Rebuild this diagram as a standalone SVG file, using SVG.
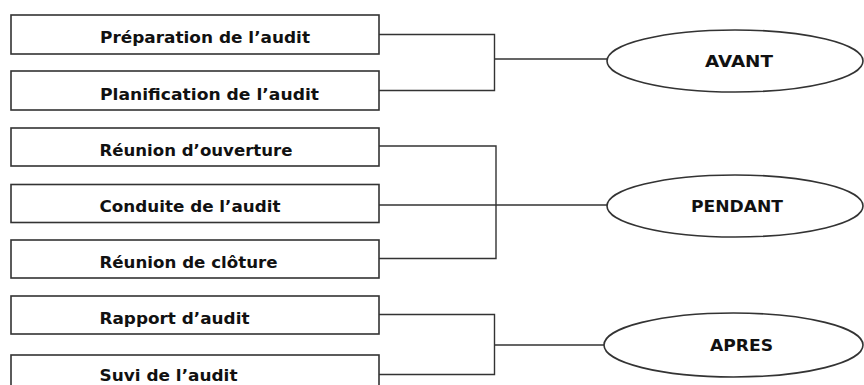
<svg xmlns="http://www.w3.org/2000/svg" width="864" height="385" viewBox="0 0 864 385">
<style>
.box{fill:#fff;stroke:#333;stroke-width:1.6}
.ell{fill:#fff;stroke:#333;stroke-width:1.6}
.ln{fill:none;stroke:#333;stroke-width:1.4}
.t{font-family:"DejaVu Sans",Verdana,sans-serif;font-weight:bold;font-size:16.5px;fill:#111}
.e{font-size:15.5px}
.c{text-anchor:middle}
</style>
<rect width="864" height="385" fill="#fff"/>
<g id="connectors">
<path class="ln" d="M379,34.5 H494.5 V90.5 H379 M494.5,59 H607"/>
<path class="ln" d="M379,146 H496 V258.5 H379 M379,205 H607"/>
<path class="ln" d="M379,314.5 H494.5 V374.5 H379 M494.5,345 H604"/>
</g>
<g id="n1"><rect class="box" x="11" y="15" width="368" height="39"/><text class="t" x="100" y="43" textLength="210" lengthAdjust="spacingAndGlyphs">Préparation de l’audit</text></g>
<g id="n2"><rect class="box" x="11" y="71" width="368" height="39"/><text class="t" x="100" y="99.5" textLength="219" lengthAdjust="spacingAndGlyphs">Planification de l’audit</text></g>
<g id="n3"><rect class="box" x="11" y="128" width="368" height="38"/><text class="t" x="99.5" y="155.5" textLength="193" lengthAdjust="spacingAndGlyphs">Réunion d’ouverture</text></g>
<g id="n4"><rect class="box" x="11" y="184.5" width="368" height="38"/><text class="t" x="99.5" y="212" textLength="181" lengthAdjust="spacingAndGlyphs">Conduite de l’audit</text></g>
<g id="n5"><rect class="box" x="11" y="240" width="368" height="38"/><text class="t" x="99.5" y="267.5" textLength="178" lengthAdjust="spacingAndGlyphs">Réunion de clôture</text></g>
<g id="n6"><rect class="box" x="11" y="296" width="368" height="38"/><text class="t" x="99.5" y="323.5" textLength="150" lengthAdjust="spacingAndGlyphs">Rapport d’audit</text></g>
<g id="n7"><rect class="box" x="11" y="355" width="368" height="39"/><text class="t" x="99.5" y="380.5" textLength="138" lengthAdjust="spacingAndGlyphs">Suvi de l’audit</text></g>
<g id="avant"><ellipse class="ell" cx="735" cy="61" rx="128" ry="31"/><text class="t e c" x="739" y="66.5" textLength="68" lengthAdjust="spacingAndGlyphs">AVANT</text></g>
<g id="pendant"><ellipse class="ell" cx="735" cy="206" rx="128" ry="31"/><text class="t e c" x="737" y="212" textLength="92" lengthAdjust="spacingAndGlyphs">PENDANT</text></g>
<g id="apres"><ellipse class="ell" cx="733.5" cy="345" rx="129.5" ry="32"/><text class="t e c" x="741.5" y="351" textLength="63" lengthAdjust="spacingAndGlyphs">APRES</text></g>
</svg>
